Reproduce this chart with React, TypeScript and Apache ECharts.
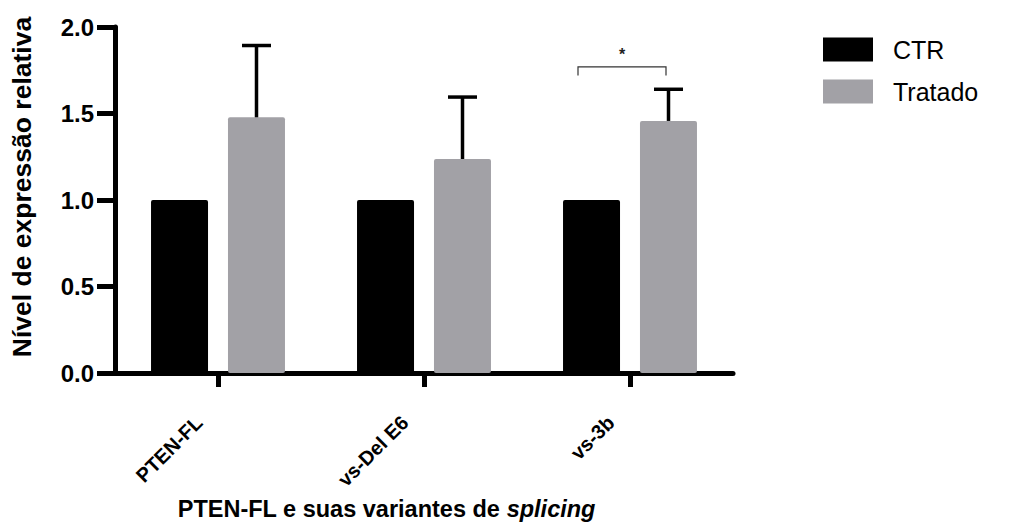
import React, { useEffect, useRef } from 'react';
import * as echarts from 'echarts';

const categories = ['PTEN-FL', 'vs-Del E6', 'vs-3b'];
const ctrValues = [1.0, 1.0, 1.0];
const tratadoValues = [1.478, 1.237, 1.457];
const tratadoErrorTop = [1.893, 1.595, 1.64];
const yMin = 0;
const yMax = 2.0;
const yInterval = 0.5;
const sigCategoryIndex = 2;
const sigLevel = 1.77;
const sigDrop = 1.72;
const sigLabel = '*';

const FONT = '"Liberation Sans", Arial, sans-serif';
const GRAY = '#a2a1a6';

export default function App() {
  const ref = useRef<HTMLDivElement>(null);
  useEffect(() => {
    document.body.style.margin = '0';
    const chart = echarts.init(ref.current!, null, { renderer: 'svg' });
    const barWidth = 57;
    const offset = 38.5;
    chart.setOption({
      animation: false,
      backgroundColor: '#fff',
      textStyle: { fontFamily: FONT },
      grid: { left: 114, right: 278, top: 27, bottom: 154, containLabel: false },
      legend: {
        data: ['CTR', 'Tratado'],
        orient: 'vertical',
        left: 818,
        top: 32,
        itemWidth: 50,
        itemHeight: 24,
        itemGap: 17,
        icon: 'rect',
        textStyle: { fontSize: 25, color: '#000', fontFamily: FONT, padding: [0, 0, 0, 15] },
      },
      xAxis: {
        type: 'category',
        data: categories,
        axisLine: { lineStyle: { color: '#000', width: 5 } },
        axisTick: { show: true, interval: 0, alignWithLabel: true, length: 14, lineStyle: { color: '#000', width: 5 } },
        axisLabel: {
          interval: 0,
          rotate: 45,
          fontSize: 20,
          fontWeight: 'bold',
          color: '#000',
          margin: 27,
          padding: [0, 27, 0, 0],
          fontFamily: FONT,
        },
        name: '{b|PTEN-FL e suas variantes de }{i|splicing}',
        nameLocation: 'middle',
        nameGap: 121,
        nameTextStyle: {
          padding: [0, 75, 0, 0],
          rich: {
            b: { fontSize: 23.5, fontWeight: 'bold', color: '#000', fontFamily: FONT },
            i: { fontSize: 23.5, fontWeight: 'bold', fontStyle: 'italic', color: '#000', fontFamily: FONT },
          },
        },
      },
      yAxis: {
        type: 'value',
        min: yMin,
        max: yMax,
        interval: yInterval,
        splitLine: { show: false },
        axisLine: { show: true, lineStyle: { color: '#000', width: 5 } },
        axisTick: { show: true, length: 18, lineStyle: { color: '#000', width: 5 } },
        axisLabel: {
          fontSize: 24,
          fontWeight: 'bold',
          color: '#000',
          margin: 21,
          fontFamily: FONT,
          formatter: (v: number) => v.toFixed(1),
        },
        name: 'Nível de expressão relativa',
        nameLocation: 'middle',
        nameGap: 80,
        nameTextStyle: { fontSize: 26.5, fontWeight: 'bold', color: '#000', fontFamily: FONT, padding: [0, 0, 0, 26] },
      },
      series: [
        {
          name: 'CTR',
          type: 'bar',
          data: ctrValues,
          barWidth,
          barGap: '35%',
          itemStyle: { color: '#000', borderRadius: 2 },
        },
        {
          name: 'Tratado',
          type: 'bar',
          data: tratadoValues,
          barWidth,
          barGap: '35%',
          itemStyle: { color: GRAY, borderRadius: 2 },
        },
        {
          name: 'err',
          type: 'custom',
          z: 5,
          encode: { x: 0, y: [1, 2] },
          data: tratadoValues.map((v, i) => [i, v, tratadoErrorTop[i]]),
          renderItem: (params: any, api: any) => {
            const base = api.coord([api.value(0), api.value(1)]);
            const top = api.coord([api.value(0), api.value(2)]);
            const x = base[0] + offset;
            const style = { stroke: '#000', lineWidth: 3.5 };
            return {
              type: 'group',
              children: [
                { type: 'line', shape: { x1: x, y1: base[1], x2: x, y2: top[1] }, style },
                { type: 'line', shape: { x1: x - 14.5, y1: top[1], x2: x + 14.5, y2: top[1] }, style },
              ],
            };
          },
        },
        {
          name: 'sig',
          type: 'custom',
          z: 5,
          encode: { x: 0, y: 1 },
          data: [[sigCategoryIndex, sigLevel, sigDrop]],
          renderItem: (params: any, api: any) => {
            const c = api.coord([api.value(0), api.value(1)]);
            const d = api.coord([api.value(0), api.value(2)]);
            const l = c[0] - 52;
            const r = c[0] + 36;
            return {
              type: 'group',
              children: [
                {
                  type: 'polyline',
                  shape: { points: [[l, d[1]], [l, c[1]], [r, c[1]], [r, d[1]]] },
                  style: { stroke: '#333', lineWidth: 1.2, fill: 'none' },
                },
                {
                  type: 'text',
                  x: (l + r) / 2,
                  y: c[1] - 4,
                  style: { text: sigLabel, fontSize: 16, fontWeight: 'bold', fill: '#222', align: 'center', verticalAlign: 'bottom', fontFamily: FONT },
                },
              ],
            };
          },
        },
      ],
    });
    return () => chart.dispose();
  }, []);
  return <div ref={ref} style={{ width: 1011, height: 527 }} />;
}
